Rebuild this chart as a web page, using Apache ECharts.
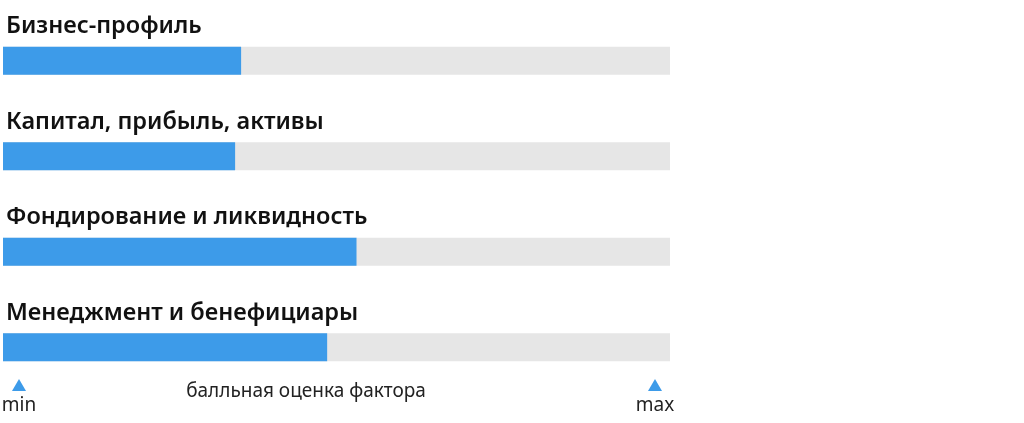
<!DOCTYPE html>
<html>
<head>
<meta charset="utf-8">
<script src="https://cdn.jsdelivr.net/npm/echarts@6/dist/echarts.min.js"></script>
<style>
  html, body { margin: 0; padding: 0; background: #ffffff; }
  #chart { width: 1024px; height: 423px; }
</style>
</head>
<body>
<div id="chart"></div>
<script>
// Factor scores on a 0–100 scale (min to max)
const factors = [
  'Бизнес-профиль',
  'Капитал, прибыль, активы',
  'Фондирование и ликвидность',
  'Менеджмент и бенефициары'
];
const scores = [35.7, 34.8, 53.0, 48.6];
const scaleMin = 0;
const scaleMax = 100;
const axisCaption = 'балльная оценка фактора';
const minLabel = 'min';
const maxLabel = 'max';

const blue = '#3d9be9';
const track = '#e6e6e6';
const font = '"Noto Sans", sans-serif';

const chart = echarts.init(document.getElementById('chart'), null, { renderer: 'canvas' });

chart.setOption({
  animation: false,
  grid: { left: 3, right: 354, top: 13, bottom: 28, containLabel: false },
  xAxis: {
    type: 'value', min: scaleMin, max: scaleMax,
    show: false
  },
  yAxis: {
    type: 'category', data: factors, inverse: true,
    show: false
  },
  series: [{
    type: 'bar',
    data: scores,
    barWidth: 28,
    itemStyle: { color: blue },
    showBackground: true,
    backgroundStyle: { color: track },
    label: {
      show: true,
      position: [3, -8],
      verticalAlign: 'bottom',
      align: 'left',
      formatter: '{b}',
      color: '#111111',
      fontFamily: font,
      fontWeight: 600,
      fontSize: 23.5
    }
  }],
  graphic: [
    { type: 'polygon', shape: { points: [[19, 379], [12, 391], [26, 391]] }, style: { fill: blue } },
    { type: 'polygon', shape: { points: [[655, 379], [648, 391], [662, 391]] }, style: { fill: blue } },
    { type: 'text', x: 19, y: 406, style: { text: minLabel, fill: '#222', font: '19px ' + font, align: 'center', verticalAlign: 'middle' } },
    { type: 'text', x: 655, y: 406, style: { text: maxLabel, fill: '#222', font: '19px ' + font, align: 'center', verticalAlign: 'middle' } },
    { type: 'text', x: 306, y: 392, style: { text: axisCaption, fill: '#222', font: '19px ' + font, align: 'center', verticalAlign: 'middle' } }
  ]
});
</script>
</body>
</html>
